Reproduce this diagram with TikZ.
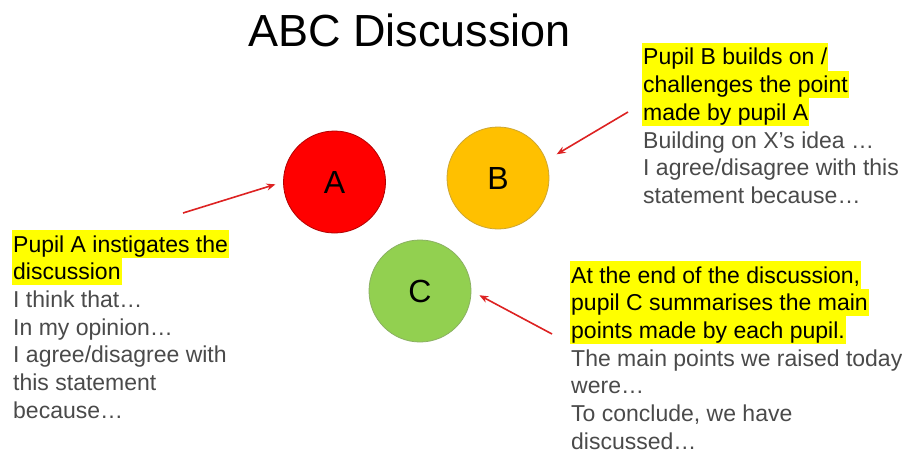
\documentclass[tikz,border=0pt]{standalone}
\usepackage{fontspec}
\setmainfont{Liberation Sans}
\usetikzlibrary{arrows.meta}
\definecolor{hlyellow}{HTML}{FFFF00}
\definecolor{bodygray}{HTML}{4A4A4A}
\definecolor{arrred}{HTML}{DD2222}
\definecolor{cA}{HTML}{FF0000}
\definecolor{cB}{HTML}{FFC000}
\definecolor{cC}{HTML}{92D050}
\tikzset{
  txt/.style={anchor=base west, inner xsep=1pt, inner ysep=0pt, font=\fontsize{23}{28}\selectfont},
  hl/.style={txt, fill=hlyellow, text=black, text height=22pt, text depth=5.7pt},
  plain/.style={txt, text=bodygray, text height=17pt, text depth=0pt},
  pupil/.style={circle, minimum size=102pt, inner sep=0pt, line width=0.8pt, font=\fontsize{32}{32}\selectfont},
  arr/.style={draw=arrred, line width=1.6pt, -{Stealth[length=9pt,width=7pt]}}
}
\begin{document}
\begin{tikzpicture}[x=1pt,y=-1pt]
\useasboundingbox (0,0) rectangle (902,452);
\fill[white] (0,0) rectangle (902,452);
\node[anchor=base, inner sep=0pt, font=\fontsize{45}{50}\selectfont] (title) at (409.5,47) {ABC Discussion};

\node[pupil, fill=cA, draw=cA!70!black] (A) at (334.5,182) {A};
\node[pupil, fill=cB, draw=cB!60!gray] (B) at (498,178) {B};
\node[pupil, fill=cC, draw=cC!60!gray] (C) at (420,291) {C};

% left block
\node[hl] (a1) at (12,252) {Pupil A instigates the};
\node[hl] (a2) at (12,279.7) {discussion};
\node[plain] (a3) at (12,307.4) {I think that\dots};
\node[plain] (a4) at (12,335.1) {In my opinion\dots};
\node[plain] (a5) at (12,362.8) {I agree/disagree with};
\node[plain] (a6) at (12,390.5) {this statement};
\node[plain] (a7) at (12,418.2) {because\dots};

% top right block
\node[hl] (b1) at (642,65) {Pupil B builds on /};
\node[hl] (b2) at (642,92.7) {challenges the point};
\node[hl] (b3) at (642,120.4) {made by pupil A};
\node[plain] (b4) at (642,148.1) {Building on X’s idea \dots};
\node[plain] (b5) at (642,175.8) {I agree/disagree with this};
\node[plain] (b6) at (642,203.5) {statement because\dots};

% bottom right block
\node[hl] (c1) at (570,283) {At the end of the discussion,};
\node[hl] (c2) at (570,310.7) {pupil C summarises the main};
\node[hl] (c3) at (570,338.4) {points made by each pupil.};
\node[plain] (c4) at (570,366.1) {The main points we raised today};
\node[plain] (c5) at (570,393.8) {were\dots};
\node[plain] (c6) at (570,421.5) {To conclude, we have};
\node[plain] (c7) at (570,449) {discussed\dots};

\coordinate (sA) at (183,213);
\coordinate (sB) at (628,112);
\coordinate (sC) at (552,334);
\draw[arr, shorten >=8pt] (sA) -- (A.west);
\draw[arr, shorten >=12pt] (sB) -- (B.20);
\draw[arr, shorten >=9pt] (sC) -- (C.east);
\end{tikzpicture}
\end{document}
